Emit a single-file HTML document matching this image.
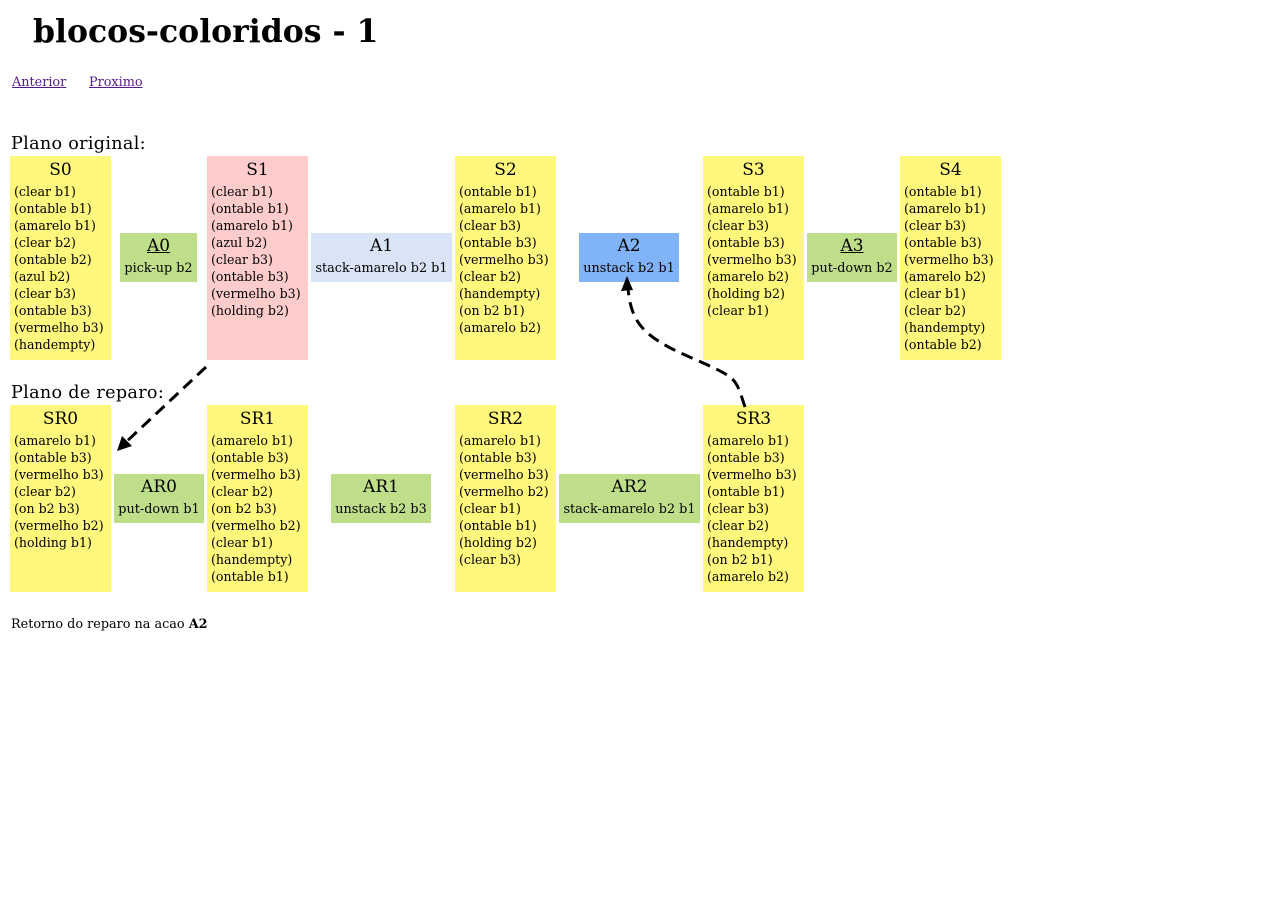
<!DOCTYPE html>
<html><head><meta charset="utf-8"><style>
body{margin:0;background:#fff;font-family:"DejaVu Serif","Liberation Serif",serif;color:#000;width:1280px;height:920px;position:relative;overflow:hidden}
.a{position:absolute}
h1{position:absolute;left:33px;top:10px;margin:0;font-size:31.5px;font-weight:bold;line-height:44px}
.lnk{position:absolute;top:75px;font-size:12.8px;color:#551a8b;text-decoration:underline}
.sec{position:absolute;left:11px;font-size:17.6px;line-height:20px;letter-spacing:0.3px}
.st{position:absolute;background:#fff87c}
.st .t{position:absolute;left:0;right:0;top:4px;height:20px;line-height:20px;text-align:center;font-size:17px}
.st .l{position:absolute;left:4px;top:27px;font-size:12.6px;line-height:17px;white-space:pre}
.ac{position:absolute;height:49px}
.ac .t{position:absolute;left:0;right:0;top:3px;line-height:20px;text-align:center;font-size:17px}
.ac .s{position:absolute;left:0;right:0;top:27px;line-height:18px;text-align:center;font-size:12.8px;white-space:nowrap}
.u{text-decoration:underline}
</style></head><body>
<h1>blocos-coloridos - 1</h1>
<span class="lnk" style="left:12px">Anterior</span>
<span class="lnk" style="left:89px">Proximo</span>
<div class="sec" style="top:134px">Plano original:</div>
<div class="sec" style="top:383px">Plano de reparo:</div>

<div class="st" style="left:10px;top:156px;width:101px;height:204px"><div class="t">S0</div><div class="l">(clear b1)
(ontable b1)
(amarelo b1)
(clear b2)
(ontable b2)
(azul b2)
(clear b3)
(ontable b3)
(vermelho b3)
(handempty)</div></div>
<div class="ac" style="left:120px;top:233px;width:77px;background:#bede8a"><div class="t u">A0</div><div class="s">pick-up b2</div></div>
<div class="st" style="left:207px;top:156px;width:101px;height:204px;background:#ffcccc"><div class="t">S1</div><div class="l">(clear b1)
(ontable b1)
(amarelo b1)
(azul b2)
(clear b3)
(ontable b3)
(vermelho b3)
(holding b2)</div></div>
<div class="ac" style="left:311px;top:233px;width:141px;background:#d9e5f6"><div class="t">A1</div><div class="s">stack-amarelo b2 b1</div></div>
<div class="st" style="left:455px;top:156px;width:101px;height:204px"><div class="t">S2</div><div class="l">(ontable b1)
(amarelo b1)
(clear b3)
(ontable b3)
(vermelho b3)
(clear b2)
(handempty)
(on b2 b1)
(amarelo b2)</div></div>
<div class="ac" style="left:579px;top:233px;width:100px;background:#80b3f8"><div class="t">A2</div><div class="s">unstack b2 b1</div></div>
<div class="st" style="left:703px;top:156px;width:101px;height:204px"><div class="t">S3</div><div class="l">(ontable b1)
(amarelo b1)
(clear b3)
(ontable b3)
(vermelho b3)
(amarelo b2)
(holding b2)
(clear b1)</div></div>
<div class="ac" style="left:807px;top:233px;width:90px;background:#bede8a"><div class="t u">A3</div><div class="s">put-down b2</div></div>
<div class="st" style="left:900px;top:156px;width:101px;height:204px"><div class="t">S4</div><div class="l">(ontable b1)
(amarelo b1)
(clear b3)
(ontable b3)
(vermelho b3)
(amarelo b2)
(clear b1)
(clear b2)
(handempty)
(ontable b2)</div></div>

<div class="st" style="left:10px;top:405px;width:101px;height:187px"><div class="t">SR0</div><div class="l">(amarelo b1)
(ontable b3)
(vermelho b3)
(clear b2)
(on b2 b3)
(vermelho b2)
(holding b1)</div></div>
<div class="ac" style="left:114px;top:474px;width:90px;background:#bede8a"><div class="t">AR0</div><div class="s">put-down b1</div></div>
<div class="st" style="left:207px;top:405px;width:101px;height:187px"><div class="t">SR1</div><div class="l">(amarelo b1)
(ontable b3)
(vermelho b3)
(clear b2)
(on b2 b3)
(vermelho b2)
(clear b1)
(handempty)
(ontable b1)</div></div>
<div class="ac" style="left:331px;top:474px;width:100px;background:#bede8a"><div class="t">AR1</div><div class="s">unstack b2 b3</div></div>
<div class="st" style="left:455px;top:405px;width:101px;height:187px"><div class="t">SR2</div><div class="l">(amarelo b1)
(ontable b3)
(vermelho b3)
(vermelho b2)
(clear b1)
(ontable b1)
(holding b2)
(clear b3)</div></div>
<div class="ac" style="left:559px;top:474px;width:141px;background:#bede8a"><div class="t">AR2</div><div class="s">stack-amarelo b2 b1</div></div>
<div class="st" style="left:703px;top:405px;width:101px;height:187px"><div class="t">SR3</div><div class="l">(amarelo b1)
(ontable b3)
(vermelho b3)
(ontable b1)
(clear b3)
(clear b2)
(handempty)
(on b2 b1)
(amarelo b2)</div></div>

<div class="a" style="left:11px;top:616px;font-size:12.8px;line-height:17px">Retorno do reparo na acao <b>A2</b></div>

<svg class="a" style="left:0;top:0" width="1280" height="920">
<path d="M206,367 L125,443" stroke="#000" stroke-width="3" fill="none" stroke-dasharray="12,7"/>
<polygon points="117,451 122,436 132,446" fill="#000"/>
<path d="M745,407 C740,392 738,383 730,377 C715,366 680,355 660,342 C635,327 630,310 628,288" stroke="#000" stroke-width="3" fill="none" stroke-dasharray="12,7"/>
<polygon points="627,276 621,291 633,290" fill="#000"/>
</svg>
</body></html>
